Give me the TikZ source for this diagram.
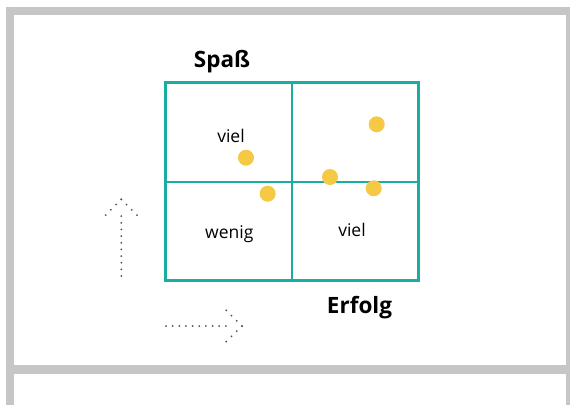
\documentclass[tikz,border=0pt]{standalone}
\usepackage{fontspec}
\setmainfont{Open Sans}
\begin{document}
\begin{tikzpicture}[x=1pt,y=-1pt,
  framebar/.style={fill=framegray,draw=none},
  cellline/.style={draw=teal2,line width=2.2pt},
  outerline/.style={draw=teal2,line width=3pt},
  mark dot/.style={circle,fill=dotyellow,draw=none,minimum size=16pt,inner sep=0pt},
  celltext/.style={font=\fontsize{17.5}{21}\selectfont,anchor=base,inner sep=0pt},
  axistext/.style={font=\bfseries\fontsize{22.5}{27}\selectfont,anchor=base,inner sep=0pt},
  dotline/.style={draw=dotgray,line width=2pt,line cap=round,dash pattern=on 0pt off 6.65pt},
  dothead/.style={draw=dotgray,line width=2pt,line cap=round,dash pattern=on 0pt off 7.4pt}]
\definecolor{framegray}{HTML}{C6C6C6}
\definecolor{teal2}{HTML}{18AFA2}
\definecolor{dotyellow}{HTML}{F6C945}
\definecolor{dotgray}{HTML}{505050}
\useasboundingbox (0,0) rectangle (570,405);
\fill[white] (0,0) rectangle (570,405);
% page frame
\fill[framebar] (6,7) rectangle (570,15);
\fill[framebar] (6,7) rectangle (14,405);
\fill[framebar] (565.7,7) rectangle (570,405);
\fill[framebar] (6,365.3) rectangle (570,374.3);
% quadrant grid
\coordinate (nw) at (165.5,82.5);
\coordinate (se) at (418.5,280.5);
\coordinate (midtop) at (291.7,82.5);
\coordinate (midbot) at (291.7,280.5);
\coordinate (midleft) at (165.5,181.7);
\coordinate (midright) at (418.5,181.7);
\draw[cellline] (midtop) -- (midbot);
\draw[cellline] (midleft) -- (midright);
\draw[outerline] (nw) rectangle (se);
% labels
\node[axistext] (spass) at (222,67.3) {Spaß};
\node[axistext] (erfolg) at (359.5,313.3) {Erfolg};
\node[celltext] (viel1) at (231,142.7) {viel};
\node[celltext] (wenig) at (229.3,238.3) {wenig};
\node[celltext] (viel2) at (352,236.7) {viel};
% data points
\node[mark dot] (p1) at (246,157.7) {};
\node[mark dot] (p2) at (267.7,193.7) {};
\node[mark dot] (p3) at (376.7,124.3) {};
\node[mark dot] (p4) at (330,177) {};
\node[mark dot] (p5) at (373.7,188.3) {};
% dotted axis arrows: shaft plus two dotted head strokes from the tip
\coordinate (vbase) at (121.3,276);
\coordinate (vneck) at (121.3,215.3);
\coordinate (vtip) at (121.3,199.3);
\coordinate (vl) at (105.5,215.3);
\coordinate (vr) at (137.1,215.3);
\draw[dotline] (vbase) -- (vneck);
\draw[dothead] (vtip) -- (vl);
\draw[dothead] (vtip) -- (vr);
\coordinate (hbase) at (166,326);
\coordinate (hneck) at (226,326);
\coordinate (htip) at (242,326);
\coordinate (hu) at (226,310.2);
\coordinate (hd) at (226,341.8);
\draw[dotline] (hbase) -- (hneck);
\draw[dothead] (htip) -- (hu);
\draw[dothead] (htip) -- (hd);
\end{tikzpicture}
\end{document}
